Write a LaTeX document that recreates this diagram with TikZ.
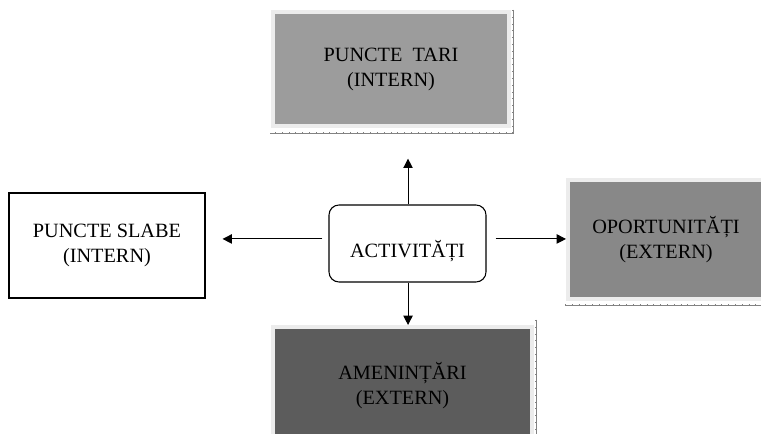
\documentclass[tikz,border=0pt]{standalone}
\usepackage{fontspec}
\setmainfont{Liberation Serif}
\usetikzlibrary{arrows.meta,calc,positioning}
\definecolor{TariGrey}{RGB}{156,156,156}
\definecolor{OportGrey}{RGB}{136,136,136}
\definecolor{AmenGrey}{RGB}{92,92,92}
\definecolor{FrameGrey}{RGB}{236,236,236}
\definecolor{TickGrey}{RGB}{130,130,130}

\begin{document}
\begin{tikzpicture}[x=0.75pt,y=-0.75pt,
  font=\fontsize{15.2}{18.75}\selectfont,
  swot/.style={draw=FrameGrey,line width=3pt,inner sep=0pt,align=center},
  ruler/.style={TickGrey,line width=0.6pt,postaction={draw,TickGrey,line width=1.8pt,dash pattern=on 0.5pt off 4.6pt}},
  arr/.style={-{Triangle[length=7pt,width=7pt]},line width=0.8pt}]
\useasboundingbox (0,0) rectangle (761,434);
\clip (0,0) rectangle (761,434);
\draw[ruler] (513,10)--(513,133)--(270,133);
\draw[ruler] (565,305)--(761,305);
\draw[ruler] (536,320)--(536,434);
\node[swot,fill=TariGrey,minimum width=177pt,minimum height=85.5pt] (tari) at (391,69) {PUNCTE\ \ TARI\\(INTERN)};
\node[swot,fill=OportGrey,minimum width=147pt,minimum height=89.25pt] (oport) at (666,239.5) {OPORTUNITĂȚI\\(EXTERN)};
\node[swot,fill=AmenGrey,minimum width=194.25pt,minimum height=88.5pt] (amen) at (402.5,386) {AMENINȚĂRI\\(EXTERN)};
\node[draw,line width=0.8pt,inner sep=0pt,align=center,minimum width=147pt,minimum height=78.75pt] (slabe) at (107,245.5) {PUNCTE SLABE\\(INTERN)};
\node[draw,line width=0.8pt,rounded corners=7.5pt,inner sep=0pt,text height=21pt,text depth=0pt,minimum width=117.75pt,minimum height=57.75pt] (act) at (407.5,243.5) {ACTIVITĂȚI};
\draw[arr,shorten >=23pt] ([xshift=0.4pt]act.north)--([xshift=0.4pt]act.north |- tari.south);
\draw[arr] ([xshift=0.4pt]act.south)--([xshift=0.4pt]act.south |- amen.north);
\draw[arr,shorten <=6.75pt] ([yshift=3.4pt]act.east)--([yshift=3.4pt]act.east -| oport.west);
\draw[arr,shorten <=4.5pt,shorten >=12.75pt] ([yshift=3.4pt]act.west)--([yshift=3.4pt]act.west -| slabe.east);
\end{tikzpicture}
\end{document}
